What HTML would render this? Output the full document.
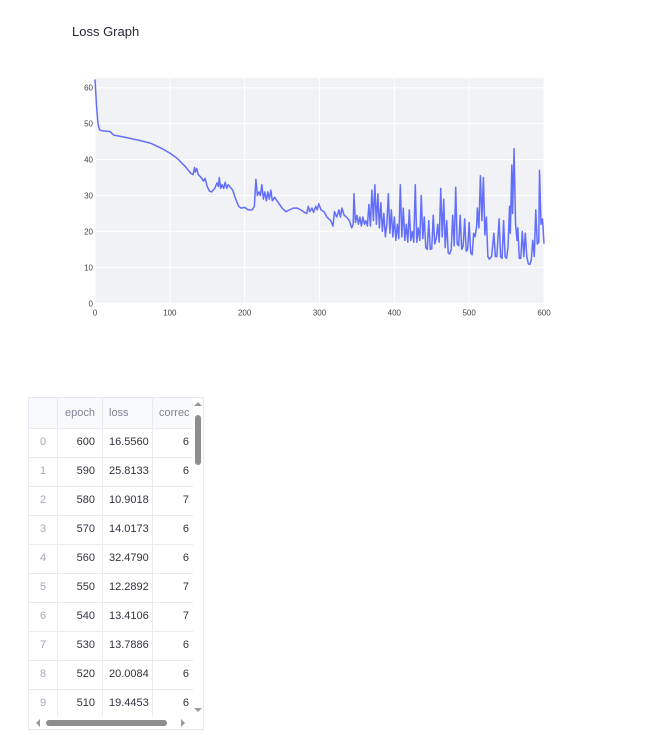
<!DOCTYPE html>
<html><head><meta charset="utf-8"><style>
body{margin:0;width:648px;height:735px;background:#fff;font-family:"Liberation Sans",sans-serif;position:relative;overflow:hidden}
.title{position:absolute;left:72px;top:24px;font-size:13px;color:#262730}
.tbl{position:absolute;left:28px;top:397px;width:176px;height:333px;border:1px solid #e6e9ef;box-sizing:border-box;overflow:hidden;font-size:11px}
.row{position:absolute;left:0;height:29px;border-bottom:1px solid #e9eaee;width:164px}
.c{position:absolute;top:0;height:100%;line-height:29px;border-right:1px solid #e9eaee;box-sizing:border-box;color:#31333f}
</style></head><body>
<div class="title">Loss Graph</div>
<svg id="chart" width="648" height="340" style="position:absolute;left:0;top:0"></svg>
<div class="tbl" id="tbl"></div>
<script>
const epochs=[0,2,4,6,10,20,23,25,40,60,75,90,100,110,120,128,131,133,134,136,138,142,145,147,150,153,156,160,163,165,166,168,170,172,174,176,178,180,184,188,192,195,200,205,210,213,215,217,219,221,223,225,227,229,231,233,235,237,240,245,250,255,260,265,270,275,280,283,285,287,290,292,295,297,299,302,306,310,315,318,320,323,326,328,330,333,336,340,343,345,346,348,350,352,354,356,358,360,362,364,366,368,370,372,374,376,378,380,382,384,386,388,390,392,394,396,398,400,402,404,406,408,410,412,414,416,418,420,422,424,426,428,430,432,434,436,438,440,442,444,446,448,450,452,454,456,458,460,462,464,466,468,470,472,474,476,478,480,482,484,486,488,490,492,494,496,498,500,502,504,506,508,510,511,513,515,517,519,521,523,525,527,530,533,535,537,540,542,544,546,548,550,552,554,555,557,558,560,562,564,565,567,569,571,573,575,577,579,581,583,585,587,589,591,593,594,596,598,600];
const losses=[62.3,55,50,48.3,48,47.8,47.2,46.8,46.2,45.3,44.5,43,41.8,40.3,38.2,36.2,35.8,37.8,36.5,37.5,35.8,35,34,34.8,32.5,31.2,31,32,33.5,32.5,35,32,33,32,33.7,32,33,32.5,31.5,29,27,26.5,26.7,26,26,27,34.5,30,31,30,33,29,31,28.5,31,29,31.5,28.5,29.5,28,26.5,25.5,26,26.5,26.5,26,25.3,25,27,25.5,26.5,25.3,27,26,27.7,26,25.5,24,23,21.5,25.5,24,26,24,26.5,24.5,24,23,21,22,30.5,22.5,24.5,22,24,21.5,24,22,23,21.5,27.5,21.5,31.5,23,33,22,30.5,21,28,20,25,18.5,22,30.5,19.5,26,18.5,24,17.5,22,18,33,18.5,26.5,17.5,22,17,26,17.5,20,17,33,17,21,17.5,30,18,24,15.5,15,23,15,15.2,24.5,16.5,18,22,17,32,18.5,29,15.5,23,14,13.7,15,24.5,16,32.3,16.5,16,24.5,15,16,23.5,14.5,15,22.5,14,13.5,19.5,18.5,21.5,26.5,21,35.5,23,35,19,24,13,12.3,13,19.5,13,13,23.5,13,12.5,23,13,12.5,16,27,19.5,38.5,25,43,22,17.5,21,12.5,12.5,20,13,19.5,13,11,10.8,12,17.5,13,26,16.5,17,37,22,23.5,16.6];
const xTicks=[0,100,200,300,400,500,600];
const yTicks=[0,10,20,30,40,50,60];
const X0=95,X1=544,Y0=303.3,PX=215.6/60;
const xs=v=>X0+(X1-X0)*v/600, ys=v=>Y0-v*PX;
const NS="http://www.w3.org/2000/svg",svg=document.getElementById('chart');
function mk(t,a){const e=document.createElementNS(NS,t);for(const k in a)e.setAttribute(k,a[k]);svg.appendChild(e);return e;}
const bg=mk('rect',{x:X0,y:78,width:X1-X0,height:Y0-78,fill:'#f0f2f6'});

xTicks.forEach(t=>{const g=mk('line',{x1:xs(t),x2:xs(t),y1:78,y2:Y0,stroke:'#fff','stroke-width':1});

const l=mk('text',{x:xs(t),y:Y0+12,'font-size':8,fill:'#444','text-anchor':'middle'});l.textContent=t;
});
yTicks.forEach(t=>{const g=mk('line',{x1:X0,x2:X1,y1:ys(t),y2:ys(t),stroke:'#fff','stroke-width':1});

const l=mk('text',{x:X0-2,y:ys(t)+3,'font-size':8,fill:'#444','text-anchor':'end'});l.textContent=t;
});
const p=mk('polyline',{points:epochs.map((e,i)=>xs(e)+','+ys(losses[i])).join(' '),fill:'none',stroke:'#636efa','stroke-width':1.5,'stroke-linejoin':'round'});


const rowsE=[600,590,580,570,560,550,540,530,520,510];
const rowsL=['16.5560','25.8133','10.9018','14.0173','32.4790','12.2892','13.4106','13.7886','20.0084','19.4453'];
const rowsC=[6,6,7,6,6,7,7,6,6,6];
const tbl=document.getElementById('tbl');
let h='<div class="row" style="top:0;height:30px;background:#f8f9fb"><div class="c" style="left:0;width:29px"></div><div class="c" style="left:29px;width:45px;color:#808495;text-align:right;padding-right:7px;line-height:30px">epoch</div><div class="c" style="left:74px;width:50px;color:#808495;padding-left:6px;line-height:30px">loss</div><div class="c" style="left:124px;width:36px;color:#808495;padding-left:6px;line-height:30px;border-right:none;overflow:hidden;white-space:nowrap">correct</div></div>';
rowsE.forEach((e,i)=>{h+='<div class="row" style="top:'+(30+i*29)+'px"><div class="c" style="left:0;width:29px;text-align:center;color:#a3a8b8">'+i+'</div><div class="c" style="left:29px;width:45px;text-align:right;padding-right:7px">'+e+'</div><div class="c" style="left:74px;width:50px;padding-left:6px">'+rowsL[i]+'</div><div class="c" style="left:124px;width:40px;text-align:right;padding-right:4px;border-right:none">'+rowsC[i]+'</div></div>';});
h+='<div style="position:absolute;left:164px;top:0;width:11px;height:318px;background:#fff"><div style="position:absolute;left:2px;top:17px;width:6px;height:50px;border-radius:3px;background:#8e8e8e"></div><div style="position:absolute;left:1px;top:4px;width:0;height:0;border-left:4px solid transparent;border-right:4px solid transparent;border-bottom:4px solid #999"></div><div style="position:absolute;left:1px;top:310px;width:0;height:0;border-left:4px solid transparent;border-right:4px solid transparent;border-top:4px solid #999"></div></div>';
h+='<div style="position:absolute;left:0;top:318px;width:175px;height:14px;background:#fff"><div style="position:absolute;left:17px;top:4px;width:121px;height:6px;border-radius:3px;background:#8e8e8e"></div><div style="position:absolute;left:7px;top:3px;border-top:4px solid transparent;border-bottom:4px solid transparent;border-right:4px solid #999"></div><div style="position:absolute;left:152px;top:3px;border-top:4px solid transparent;border-bottom:4px solid transparent;border-left:4px solid #999"></div></div>';
tbl.innerHTML=h;
</script>
</body></html>
